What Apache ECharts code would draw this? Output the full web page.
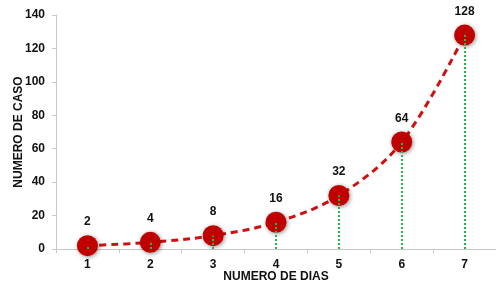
<!DOCTYPE html>
<html>
<head>
<meta charset="utf-8">
<script src="https://cdn.jsdelivr.net/npm/echarts@6/dist/echarts.min.js"></script>
<style>
    html, body { margin: 0; padding: 0; background: #fff; }
    #chart { width: 496px; height: 281px; }
</style>
</head>
<body>
<div id="chart"></div>
<script>
// datos del gráfico
let dias = ['1', '2', '3', '4', '5', '6', '7']
let casos = [2, 4, 8, 16, 32, 64, 128]
let yTicks = [0, 20, 40, 60, 80, 100, 120, 140]

// líneas verticales punteadas verdes
let dropLines = []
for (let i = 0; i < dias.length; i++) {
    dropLines.push([
        { coord: [dias[i], 0] },
        { coord: [dias[i], casos[i]] }
    ])
}

var myChart = echarts.init(document.getElementById('chart'))

var option = {
    animation: false,
    textStyle: { fontFamily: 'Liberation Sans' },
    grid: { left: 56, right: 0, top: 15, bottom: 32, outerBoundsMode: 'none', containLabel: false },
    xAxis: {
        type: 'category',
        data: dias,
        name: 'NUMERO DE DIAS',
        nameLocation: 'middle',
        nameGap: 22,
        nameMoveOverlap: false,
        nameTextStyle: { color: '#111', fontWeight: 'bold', fontSize: 12 },
        axisLine: { lineStyle: { color: '#c8c8c8', width: 1 } },
        axisTick: { show: true, length: 4, lineStyle: { color: '#c8c8c8' } },
        axisLabel: { color: '#111', fontWeight: 'bold', fontSize: 12, margin: 10 }
    },
    yAxis: {
        type: 'value',
        min: yTicks[0],
        max: yTicks[yTicks.length - 1],
        interval: 20,
        name: 'NUMERO DE CASO',
        nameLocation: 'middle',
        nameGap: 31,
        nameMoveOverlap: false,
        nameRotate: 90,
        nameTextStyle: { color: '#111', fontWeight: 'bold', fontSize: 12 },
        axisLine: { show: true, lineStyle: { color: '#c8c8c8', width: 1 } },
        axisTick: { show: true, length: 4, lineStyle: { color: '#c8c8c8' } },
        splitLine: { show: false },
        axisLabel: { color: '#111', fontWeight: 'bold', fontSize: 12, margin: 11 }
    },
    series: [
        {
            name: 'casos',
            type: 'line',
            data: casos,
            smooth: 0.35,
            symbol: 'circle',
            symbolSize: 21,
            lineStyle: { color: '#d01010', width: 3, type: [7, 5] },
            itemStyle: {
                color: '#c00000',
                shadowBlur: 4,
                shadowColor: 'rgba(0,0,0,0.45)',
                shadowOffsetX: 1,
                shadowOffsetY: 1
            },
            label: {
                show: true,
                position: 'top',
                distance: 7,
                color: '#111',
                fontWeight: 'bold',
                fontSize: 12
            },
            markLine: {
                silent: true,
                symbol: 'none',
                label: { show: false },
                lineStyle: { color: '#22bb44', width: 2, type: [2, 2] },
                z: 10,
                data: dropLines
            }
        }
    ]
}

myChart.setOption(option)
</script>
</body>
</html>
